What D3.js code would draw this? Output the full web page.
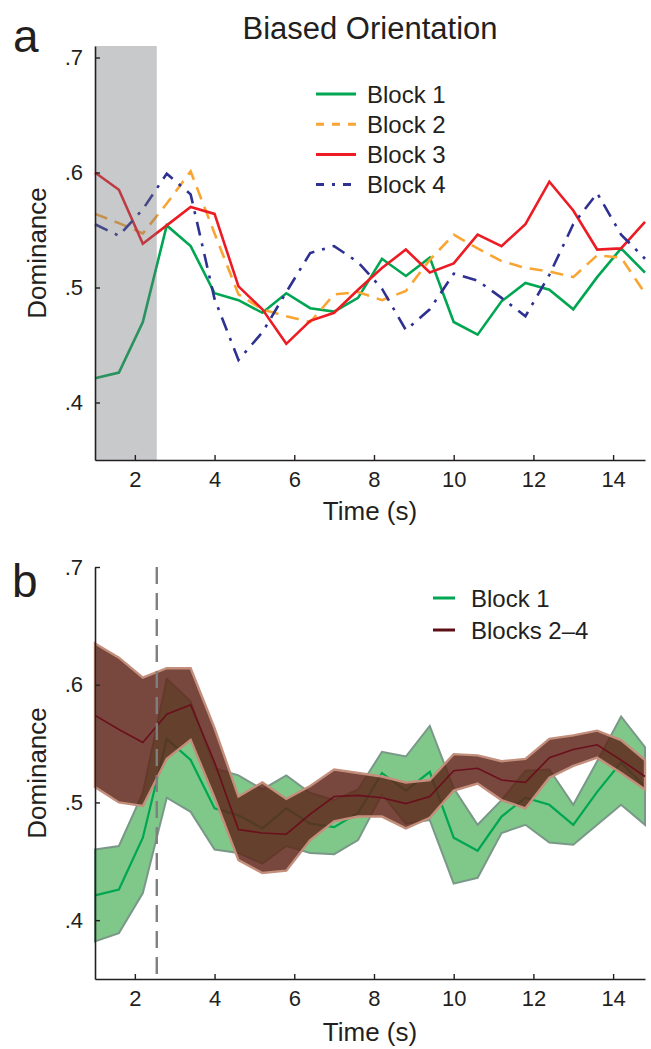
<!DOCTYPE html>
<html>
<head>
<meta charset="utf-8">
<script src="https://cdn.jsdelivr.net/npm/d3@7"></script>
<style>
  body { margin: 0; background: #fff; }
  text { font-family: "Liberation Sans", Arial, Helvetica, sans-serif; fill: #231f20; }
</style>
</head>
<body>
<div id="chart"></div>
<script>
// time points (s)
var time = [1.0, 1.6, 2.2, 2.8, 3.4, 4.0, 4.6, 5.2, 5.8, 6.4, 7.0, 7.6,
            8.2, 8.8, 9.4, 10.0, 10.6, 11.2, 11.8, 12.4, 13.0, 13.6, 14.2, 14.8];

// panel a: dominance per block
var block1 = [0.421, 0.426, 0.470, 0.554, 0.536, 0.495, 0.489, 0.478, 0.495, 0.482, 0.479, 0.491,
              0.525, 0.510, 0.526, 0.470, 0.459, 0.488, 0.504, 0.498, 0.481, 0.509, 0.534, 0.513];
var block2 = [0.564, 0.556, 0.547, 0.573, 0.601, 0.547, 0.494, 0.481, 0.475, 0.470, 0.494, 0.496,
              0.489, 0.497, 0.524, 0.546, 0.534, 0.523, 0.517, 0.514, 0.509, 0.528, 0.526, 0.495];
var block3 = [0.600, 0.585, 0.538, 0.554, 0.570, 0.564, 0.501, 0.481, 0.451, 0.471, 0.478, 0.498,
              0.517, 0.533, 0.513, 0.521, 0.546, 0.536, 0.555, 0.592, 0.567, 0.533, 0.534, 0.557];
var block4 = [0.555, 0.545, 0.568, 0.599, 0.581, 0.490, 0.437, 0.461, 0.496, 0.530, 0.536, 0.522,
              0.499, 0.463, 0.481, 0.512, 0.506, 0.491, 0.475, 0.511, 0.555, 0.582, 0.546, 0.525];

// panel b: block 1 band
var b1Upper = [0.460, 0.463, 0.508, 0.605, 0.586, 0.529, 0.523, 0.511, 0.523, 0.508, 0.502, 0.511,
               0.543, 0.539, 0.565, 0.512, 0.481, 0.502, 0.527, 0.528, 0.498, 0.535, 0.573, 0.547];
var b1Lower = [0.382, 0.389, 0.423, 0.504, 0.492, 0.460, 0.457, 0.448, 0.463, 0.457, 0.456, 0.468,
               0.507, 0.482, 0.485, 0.431, 0.436, 0.474, 0.481, 0.466, 0.464, 0.481, 0.498, 0.481];

// panel b: blocks 2-4 mean and band
var b24Mean  = [0.574, 0.562, 0.551, 0.575, 0.583, 0.534, 0.477, 0.474, 0.473, 0.490, 0.505, 0.506,
                0.504, 0.499, 0.505, 0.527, 0.529, 0.519, 0.517, 0.538, 0.545, 0.549, 0.536, 0.522];
var b24Upper = [0.635, 0.623, 0.606, 0.614, 0.614, 0.563, 0.505, 0.517, 0.503, 0.514, 0.528, 0.525,
                0.522, 0.517, 0.519, 0.541, 0.540, 0.535, 0.537, 0.554, 0.557, 0.561, 0.553, 0.536];
var b24Lower = [0.513, 0.500, 0.497, 0.537, 0.553, 0.504, 0.451, 0.440, 0.442, 0.468, 0.484, 0.488,
                0.488, 0.478, 0.487, 0.510, 0.516, 0.502, 0.495, 0.521, 0.531, 0.538, 0.525, 0.511];

var xTicks = [2, 4, 6, 8, 10, 12, 14];
var yTicks = [0.4, 0.5, 0.6, 0.7];
var cueEnd = 2.55;

var width = 651, height = 1049;
var ink = '#231f20';

var svg = d3.select('#chart').append('svg')
  .attr('width', width)
  .attr('height', height);

var x = d3.scaleLinear().domain([1, 14.8]).range([95, 645]);
var yA = d3.scaleLinear().domain([0.35, 0.71]).range([460, 46]);
var yB = d3.scaleLinear().domain([0.35, 0.70]).range([979, 567]);

var fmtY = function(d) { return d3.format('.1f')(d).replace(/^0/, ''); };

var drawAxes = function(y, titleY) {
  var gx = svg.append('g')
    .attr('transform', 'translate(0,' + y.range()[0] + ')')
    .call(d3.axisBottom(x).tickValues(xTicks).tickSize(-5).tickSizeOuter(0).tickPadding(11).tickFormat(d3.format('d')));
  var gy = svg.append('g')
    .attr('transform', 'translate(' + x.range()[0] + ',0)')
    .call(d3.axisLeft(y).tickValues(yTicks).tickSize(-5).tickSizeOuter(0).tickPadding(12).tickFormat(fmtY));
  [gx, gy].forEach(function(g) {
    g.attr('font-family', null).attr('font-size', 22);
    g.selectAll('.domain').attr('stroke', ink).attr('stroke-width', 1.6);
    g.selectAll('.tick line').attr('stroke', ink).attr('stroke-width', 1.4);
    g.selectAll('.tick text').attr('fill', ink);
  });
  svg.append('text')
    .attr('x', (x.range()[0] + x.range()[1]) / 2)
    .attr('y', titleY)
    .attr('text-anchor', 'middle')
    .attr('font-size', 26)
    .text('Time (s)');
  svg.append('text')
    .attr('transform', 'translate(46,' + (y.range()[0] + y.range()[1]) / 2 + ') rotate(-90)')
    .attr('text-anchor', 'middle')
    .attr('font-size', 26)
    .text('Dominance');
};

// ---------- panel a ----------
var lineA = d3.line()
  .x(function(d, i) { return x(time[i]); })
  .y(function(d) { return yA(d); });

var seriesA = [
  { name: 'Block 1', values: block1, color: '#00a651', dash: null, legendDash: null },
  { name: 'Block 2', values: block2, color: '#f9a533', dash: '13,8', legendDash: '8,8' },
  { name: 'Block 3', values: block3, color: '#ed1c24', dash: null, legendDash: null },
  { name: 'Block 4', values: block4, color: '#2e3192', dash: '14,8,3,8', legendDash: '8,8,3,8' }
];

svg.selectAll('path.blockA').data(seriesA).enter().append('path')
  .attr('class', 'blockA')
  .attr('d', function(d) { return lineA(d.values); })
  .attr('fill', 'none')
  .attr('stroke', function(d) { return d.color; })
  .attr('stroke-width', 2.6)
  .attr('stroke-dasharray', function(d) { return d.dash; })
  .attr('stroke-linejoin', 'miter');

// grey cue period laid over the lines
svg.append('rect')
  .attr('x', x(1))
  .attr('y', yA(0.71))
  .attr('width', x(cueEnd) - x(1))
  .attr('height', yA(0.35) - yA(0.71))
  .attr('fill', '#6f7175')
  .attr('fill-opacity', 0.38);

drawAxes(yA, 520);

svg.append('text')
  .attr('x', 370)
  .attr('y', 39)
  .attr('text-anchor', 'middle')
  .attr('font-size', 31)
  .text('Biased Orientation');

svg.append('text').attr('x', 13).attr('y', 52).attr('font-size', 46).text('a');

var legA = svg.selectAll('g.legA').data(seriesA).enter().append('g')
  .attr('class', 'legA')
  .attr('transform', function(d, i) { return 'translate(316,' + (94 + i * 30.2) + ')'; });
legA.append('line')
  .attr('x1', 0).attr('x2', 40)
  .attr('stroke', function(d) { return d.color; })
  .attr('stroke-width', 3)
  .attr('stroke-dasharray', function(d) { return d.legendDash; });
legA.append('text')
  .attr('x', 51)
  .attr('y', 8.5)
  .attr('font-size', 24)
  .text(function(d) { return d.name; });

// ---------- panel b ----------
var idx = d3.range(time.length);

var areaB = function(up, lo) {
  return d3.area()
    .x(function(i) { return x(time[i]); })
    .y0(function(i) { return yB(lo[i]); })
    .y1(function(i) { return yB(up[i]); });
};
var lineB = function(vals) {
  return d3.line()
    .x(function(i) { return x(time[i]); })
    .y(function(i) { return yB(vals[i]); });
};

svg.append('path')
  .attr('d', areaB(b1Upper, b1Lower)(idx))
  .attr('fill', '#7fc88a')
  .attr('stroke', '#7a9888')
  .attr('stroke-width', 2);

svg.append('path')
  .attr('d', lineB(block1)(idx))
  .attr('fill', 'none')
  .attr('stroke', '#00a651')
  .attr('stroke-width', 2.2);

svg.append('path')
  .attr('d', areaB(b24Upper, b24Lower)(idx))
  .attr('fill', 'rgb(96,40,28)')
  .attr('fill-opacity', 0.85)
  .attr('stroke', '#c38f7c')
  .attr('stroke-width', 2.4);

svg.append('path')
  .attr('d', lineB(b24Mean)(idx))
  .attr('fill', 'none')
  .attr('stroke', '#6a0f1c')
  .attr('stroke-width', 1.6);

// cue offset marker
svg.append('line')
  .attr('x1', x(cueEnd)).attr('x2', x(cueEnd))
  .attr('y1', yB(0.70)).attr('y2', yB(0.35))
  .attr('stroke', '#7f7f7f')
  .attr('stroke-width', 2.4)
  .attr('stroke-dasharray', '17,9');

drawAxes(yB, 1041);

svg.append('text').attr('x', 12).attr('y', 597).attr('font-size', 46).text('b');

var seriesB = [
  { name: 'Block 1', color: '#00a651' },
  { name: 'Blocks 2\u20134', color: '#5c1016' }
];
var legB = svg.selectAll('g.legB').data(seriesB).enter().append('g')
  .attr('class', 'legB')
  .attr('transform', function(d, i) { return 'translate(433,' + (598 + i * 32) + ')'; });
legB.append('line')
  .attr('x1', 0).attr('x2', 22)
  .attr('stroke', function(d) { return d.color; })
  .attr('stroke-width', 3);
legB.append('text')
  .attr('x', 38)
  .attr('y', 8.5)
  .attr('font-size', 24)
  .text(function(d) { return d.name; });
</script>
</body>
</html>
